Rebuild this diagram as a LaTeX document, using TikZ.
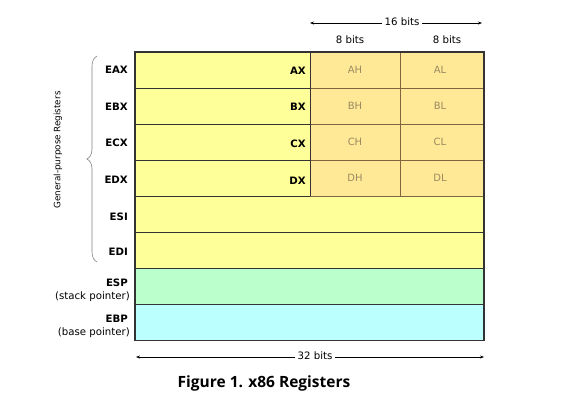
\documentclass[tikz,border=0pt]{standalone}
\usepackage{fontspec}
\setmainfont{DejaVu Sans}
\newfontfamily\capfont{Open Sans}
\usetikzlibrary{arrows.meta,decorations.pathreplacing}
\definecolor{yel}{HTML}{FFFF99}
\definecolor{half}{HTML}{FFE996}
\definecolor{grn}{HTML}{BBFFCC}
\definecolor{cyn}{HTML}{BBFFFF}
\definecolor{edge}{HTML}{333333}
\definecolor{brn}{HTML}{7F6540}
\definecolor{subtxt}{HTML}{9A8A62}
\tikzset{
  reg/.style={draw=edge, line width=1.1pt, minimum width=349pt, minimum height=36.1pt, inner sep=0pt, anchor=north west, outer sep=0pt},
  hcell/.style={draw=brn, line width=0.9pt, fill=half, minimum height=36.1pt, inner sep=0pt, anchor=north west, outer sep=0pt},
  lbl/.style={font=\fontsize{10.2}{12}\selectfont\bfseries, anchor=east, inner sep=0pt},
  sub/.style={font=\fontsize{10}{12}\selectfont, text=subtxt, inner sep=0pt},
  txt/.style={font=\fontsize{10.2}{12}\selectfont, inner sep=0pt},
  dim/.style={line width=0.6pt, {Stealth[length=4pt,width=3pt]}-{Stealth[length=4pt,width=3pt]}},
}
\begin{document}
\begin{tikzpicture}[x=1pt,y=-1pt]
\useasboundingbox (0,0) rectangle (583,412);
% register rows
\node[reg, fill=yel] (eax) at (135,52) {};
\node[reg, fill=yel] (ebx) at (135,88.1) {};
\node[reg, fill=yel] (ecx) at (135,124.2) {};
\node[reg, fill=yel] (edx) at (135,160.3) {};
\node[reg, fill=yel] (esi) at (135,196.4) {};
\node[reg, fill=yel] (edi) at (135,232.5) {};
\node[reg, fill=grn] (esp) at (135,268.6) {};
\node[reg, fill=cyn] (ebp) at (135,304.7) {};
% 16-bit cells
\foreach \r/\y/\h/\l in {a/52/AH/AL, b/88.1/BH/BL, c/124.2/CH/CL, d/160.3/DH/DL}{
  \node[hcell, minimum width=90pt] (\r h) at (310,\y) {};
  \node[hcell, minimum width=84pt] (\r l) at (400,\y) {};
  \node[sub] at (\r h.center) {\h};
  \node[sub] at ([xshift=-2pt]\r l.center) {\l};
}
\draw[edge, line width=1pt] (ah.north west) -- (dh.south west);
\draw[edge, line width=1.1pt] (eax.north west) rectangle (ebp.south east);
% 16-bit labels
\node[lbl] at (306,71) {AX};
\node[lbl] at (306,107) {BX};
\node[lbl] at (306,144) {CX};
\node[lbl] at (306,181) {DX};
% register names
\node[lbl] at (128,70) {EAX};
\node[lbl] at (128,107) {EBX};
\node[lbl] at (128,143) {ECX};
\node[lbl] at (128,180) {EDX};
\node[lbl] at (128,217) {ESI};
\node[lbl] at (128,252) {EDI};
\node[lbl] at (128,283) {ESP};
\node[txt, anchor=east] at (130,297) {(stack pointer)};
\node[lbl] at (128,319) {EBP};
\node[txt, anchor=east] at (130,333) {(base pointer)};
% brace
\coordinate (bb) at (97,262);
\coordinate (bt) at (97,56);
\draw[gray, line width=0.6pt, decorate, decoration={brace, amplitude=10pt, aspect=0.5}] (bb) -- (bt);
\node[txt, rotate=90, font=\fontsize{8.8}{10}\selectfont] (gpr) at (58,150) {General-purpose Registers};
% 16 bits
\coordinate (s1) at (310,23);
\coordinate (s2) at (482,23);
\draw[dim] (s1) -- (s2);
\node[txt, fill=white, inner xsep=3pt, inner ysep=1pt] (b16) at (402,22) {16 bits};
\node[txt] (b8a) at (350,40) {8 bits};
\node[txt] (b8b) at (447,40) {8 bits};
% 32 bits
\coordinate (t1) at (136,357);
\coordinate (t2) at (484,357);
\draw[dim] (t1) -- (t2);
\node[txt, fill=white, inner xsep=3pt, inner ysep=1pt] (b32) at (315,356) {32 bits};
% caption
\node[font=\capfont\fontsize{15.5}{18}\selectfont\bfseries, inner sep=0pt] (cap) at (264,383) {Figure 1. x86 Registers};
\end{tikzpicture}
\end{document}
